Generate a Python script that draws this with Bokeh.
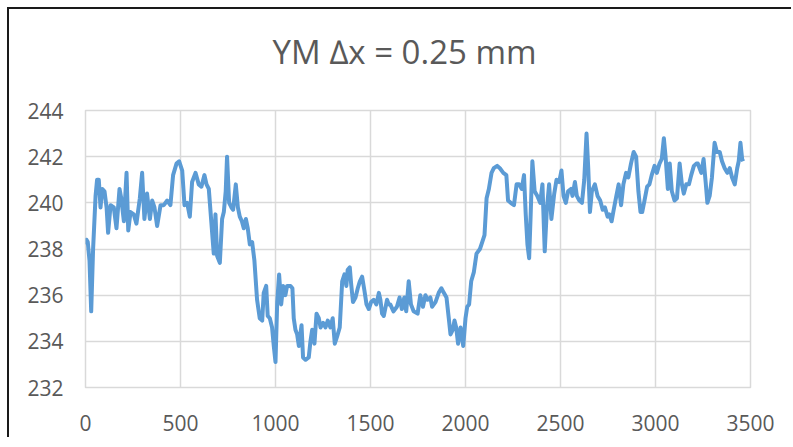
from bokeh.plotting import figure
from bokeh.models import Range1d, FixedTicker, Title
from bokeh.embed import file_html
from bokeh.resources import INLINE

x_vals = [0, 5, 12, 21, 30, 40, 53, 61, 70, 79, 88, 100, 111, 119, 132, 149, 163, 179, 188, 202,
          216, 225, 237, 254, 268, 286, 298, 310, 324, 339, 351, 363, 377, 395, 412, 430, 447, 461,
          479, 493, 509, 521, 535, 549, 561, 579, 596, 610, 626, 637, 649, 661, 675, 684, 693, 707,
          719, 728, 738, 745, 756, 768, 777, 791, 802, 812, 823, 833, 844, 854, 865, 877, 889, 903,
          917, 930, 938, 951, 959, 970, 982, 991, 1000, 1009, 1019, 1030, 1040, 1052, 1061, 1079,
          1089, 1096, 1105, 1114, 1123, 1137, 1145, 1158, 1175, 1184, 1193, 1205, 1216, 1228, 1237,
          1251, 1263, 1275, 1289, 1301, 1312, 1324, 1338, 1351, 1363, 1373, 1380, 1391, 1398, 1408,
          1421, 1433, 1444, 1456, 1468, 1479, 1491, 1503, 1517, 1531, 1544, 1552, 1561, 1570, 1587,
          1596,
          1604, 1621, 1639, 1653, 1665, 1678, 1688, 1701, 1713, 1727, 1748, 1762, 1776, 1789, 1801,
          1815, 1824, 1842, 1859, 1873, 1886, 1900, 1912, 1921, 1933, 1942, 1951, 1961, 1974, 1988,
          2000, 2009, 2019, 2030, 2044, 2058, 2076, 2088, 2100, 2111, 2123, 2137, 2149, 2167, 2181,
          2199, 2215, 2224, 2238, 2255, 2269, 2282, 2296, 2308, 2317, 2326, 2335, 2343, 2352, 2364,
          2378, 2393, 2405, 2417, 2428, 2440, 2452, 2467, 2479, 2493, 2505, 2516, 2528, 2540, 2555,
          2563, 2576, 2586, 2599, 2613, 2625, 2637, 2646, 2655, 2665, 2681, 2695, 2709, 2722, 2734,
          2748, 2757, 2769, 2780, 2794, 2806, 2819, 2831, 2845, 2857, 2871, 2885, 2898, 2910, 2921,
          2930, 2942, 2956, 2968, 2980, 2995, 3007, 3021, 3033, 3044, 3053, 3065, 3075, 3086, 3100,
          3113, 3127, 3139, 3149, 3162, 3176, 3188, 3202, 3215, 3223, 3232, 3241, 3253, 3264, 3273,
          3285, 3297, 3311, 3323, 3338, 3350, 3364, 3378, 3391, 3403, 3417, 3430, 3438, 3447, 3456,
          3461]

ym_vals = [238.2, 238.4, 238.3, 237.5, 235.3, 238.0, 240.3, 241.0, 241.0, 239.8, 240.6, 240.5, 239.8,
           238.7, 239.9, 239.8, 238.9, 240.6, 240.2, 239.2, 241.3, 238.8, 239.6, 239.5, 239.1, 240.2,
           241.3, 239.3, 240.4, 239.3, 240.1, 239.8, 239.0, 239.9, 239.9, 240.1, 239.9, 241.2, 241.7,
           241.8, 241.4, 239.9, 240.0, 239.4, 240.9, 241.3, 240.8, 240.7, 241.2, 240.8, 240.6, 239.3,
           237.8, 239.5, 237.7, 237.4, 239.3, 239.6, 240.5, 242.0, 240.0, 239.8, 239.7, 240.8, 239.8,
           239.4, 239.2, 238.9, 239.3, 238.9, 238.2, 238.3, 237.5, 235.8, 235.0, 234.9, 236.1, 236.4,
           235.1, 235.0, 234.6, 233.8, 233.1, 235.7, 236.9, 235.6, 236.4, 236.0, 236.4, 236.4, 236.3,
           235.0, 234.5, 234.3, 233.8, 234.7, 233.3, 233.2, 233.3, 234.0, 234.5, 233.9, 235.2, 235.0,
           234.6, 234.8, 234.6, 234.9, 234.6, 235.0, 233.9, 234.2, 234.6, 236.6, 236.9, 236.4, 237.1,
           237.2, 236.5, 235.7, 235.9, 236.3, 236.6, 236.8, 236.2, 235.6, 235.4, 235.7, 235.8, 235.6,
           236.1, 235.8, 235.2, 235.1, 235.8, 235.6,
           235.6, 235.3, 235.5, 235.9, 235.4, 235.9, 235.3, 236.6, 235.6, 235.3, 235.2, 236.0, 235.5,
           236.0, 235.8, 235.9, 235.5, 235.7, 236.1, 236.3, 236.1, 235.9, 235.0, 234.3, 234.5, 234.9,
           234.6, 233.9, 234.6, 233.8, 235.0, 235.5, 235.6, 236.6, 237.0, 237.8, 238.0, 238.3, 238.6,
           240.2, 240.6, 241.3, 241.5, 241.6, 241.5, 241.3, 241.2, 240.1, 240.0, 239.9, 240.8, 240.8,
           240.6, 241.2, 239.5, 238.2, 237.6, 239.5, 241.8, 240.5, 240.3, 240.0, 240.8, 237.9, 239.7,
           240.8, 239.3, 240.4, 241.0, 240.9, 241.4, 240.3, 240.0, 240.5, 240.6, 240.3, 240.9, 240.3,
           240.1, 240.0, 241.0, 243.0, 241.5, 239.6, 240.5, 240.8, 240.3, 240.1, 239.7, 239.8, 239.4,
           239.5, 239.2, 239.7, 240.3, 240.8, 239.9, 240.8, 241.3, 241.1, 241.7, 242.2, 242.0, 240.5,
           239.6, 239.6, 240.1, 240.7, 240.8, 241.2, 241.6, 241.3, 241.7, 241.9, 242.8, 242.0, 240.6,
           241.7, 240.5, 240.1, 240.2, 241.7, 240.8, 240.4, 240.8, 240.8, 241.2, 241.6, 241.7, 241.7,
           241.5, 241.3, 241.9, 240.9, 240.0, 240.3, 241.1, 242.6, 242.2, 242.2, 241.8, 241.5, 241.3,
           241.5, 241.1, 240.8, 241.5, 241.8, 242.6, 241.9, 241.8]

x_ticks = [0, 500, 1000, 1500, 2000, 2500, 3000, 3500]
y_ticks = [232, 234, 236, 238, 240, 242, 244]
title_text = "YM \u2206x = 0.25 mm"

FONT = "Open Sans"
GRAY = "#595959"

p = figure(width=784, height=430, output_backend="svg", toolbar_location=None,
           x_range=Range1d(0, 3500), y_range=Range1d(232, 244),
           min_border_left=76, min_border_right=43, min_border_top=101, min_border_bottom=52,
           styles={"margin": "9px 0 0 9px",
                   "box-shadow": "-2px -2px 0 0 #1a1a1a"})

p.title.text = title_text
p.title.align = "left"
p.title.offset = 187
p.title.vertical_align = "top"
p.title.text_font = FONT
p.title.text_font_size = "33px"
p.title.text_font_style = "normal"
p.title.text_color = GRAY
p.title.standoff = 36

# empty spacer between the title and the plot frame
p.add_layout(Title(text=" ", text_font=FONT, text_font_size="11px", standoff=0), "above")

p.line(x_vals, ym_vals, line_color="#5B9BD5", line_width=4, line_join="round")

for ax in (p.xaxis, p.yaxis):
    ax.axis_line_color = None
    ax.major_tick_line_color = None
    ax.minor_tick_line_color = None
    ax.major_label_text_font = FONT
    ax.major_label_text_font_size = "21px"
    ax.major_label_text_color = GRAY

p.xaxis.ticker = FixedTicker(ticks=x_ticks)
p.yaxis.ticker = FixedTicker(ticks=y_ticks)
p.yaxis.major_label_standoff = 16
p.xaxis.major_label_standoff = 21

p.xgrid.grid_line_color = "#D9D9D9"
p.ygrid.grid_line_color = "#D9D9D9"
p.xgrid.grid_line_width = 1.5
p.ygrid.grid_line_width = 1.5
p.outline_line_color = "#D9D9D9"
p.outline_line_width = 1.5

open("out.html", "w").write(file_html(p, INLINE))
